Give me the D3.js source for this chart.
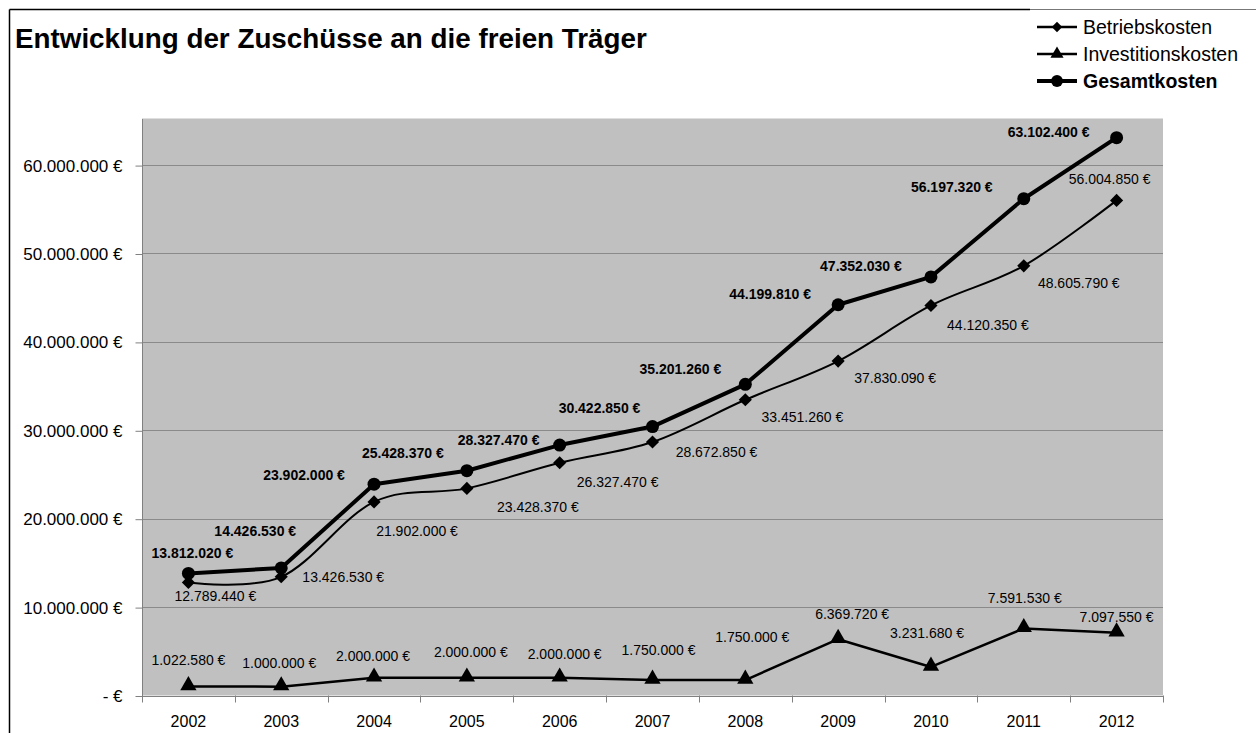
<!DOCTYPE html>
<html>
<head>
<meta charset="utf-8">
<script src="https://cdn.jsdelivr.net/npm/d3@7"></script>
<style>
	body { margin: 0; background: #fff; }
	text { font-family: 'Liberation Sans', Arial, sans-serif; }
</style>
</head>
<body>
<script>

// DATA
var years = ['2002','2003','2004','2005','2006','2007','2008','2009','2010','2011','2012'];
var betriebskosten = [12789440, 13426530, 21902000, 23428370, 26327470, 28672850, 33451260, 37830090, 44120350, 48605790, 56004850];
var investitionskosten = [1022580, 1000000, 2000000, 2000000, 2000000, 1750000, 1750000, 6369720, 3231680, 7591530, 7097550];
var gesamtkosten = [13812020, 14426530, 23902000, 25428370, 28327470, 30422850, 35201260, 44199810, 47352030, 56197320, 63102400];
var yTicks = [0, 10000000, 20000000, 30000000, 40000000, 50000000, 60000000];
var yTickLabels = ['- €', '10.000.000 €', '20.000.000 €', '30.000.000 €', '40.000.000 €', '50.000.000 €', '60.000.000 €'];
var seriesNames = ['Betriebskosten', 'Investitionskosten', 'Gesamtkosten'];

// label nudges (relative to the point, label centre)
var gesamtNudge = [[4,-20],[-26,-37],[-70,-9],[-64,-18],[-61,-5],[-53,-18],[-65,-15],[-68,-11],[-70,-11],[-72,-12],[-68,-6]];
var betriebNudge = [[27,14],[62,0],[43,29],[71,19],[58,19],[64,10],[57,17],[57,17],[57,20],[55,17],[-7,-21]];
var investNudge = [[0,-26],[-2,-24],[-1,-22],[4,-26],[5,-24],[6,-30],[7,-43],[14,-25],[-4,-34],[1,-30],[0,-16]];

var de = d3.formatLocale({decimal: ',', thousands: '.', grouping: [3], currency: ['', ' €']});
var euro = de.format(',.0f');

var chart = d3.select('body').append('svg')
	.attr('width', 1256)
	.attr('height', 733);

// OUTER FRAME
chart.append('line')
	.attr('x1', 9.5).attr('y1', 9.5).attr('x2', 1030).attr('y2', 9.5)
	.attr('stroke', '#000').attr('stroke-width', 1.5);
chart.append('line')
	.attr('x1', 1030).attr('y1', 9.5).attr('x2', 1256).attr('y2', 9.5)
	.attr('stroke', '#777').attr('stroke-width', 1);
chart.append('line')
	.attr('x1', 9.5).attr('y1', 9.5).attr('x2', 9.5).attr('y2', 733)
	.attr('stroke', '#000').attr('stroke-width', 1.5);

// TITLE
chart.append('text')
	.attr('x', 15)
	.attr('y', 48)
	.attr('font-size', 27.8)
	.attr('font-weight', 'bold')
	.text('Entwicklung der Zuschüsse an die freien Träger');

// SCALES
var plotLeft = 142, plotRight = 1163, plotTop = 118.5, plotBottom = 695.5;

var x = d3.scaleBand()
	.domain(years)
	.range([plotLeft, plotRight])
	.padding(0);

var y = d3.scaleLinear()
	.domain([0, 65270000])
	.range([plotBottom, plotTop]);

// PLOT AREA
chart.append('rect')
	.attr('x', plotLeft)
	.attr('y', plotTop)
	.attr('width', plotRight - plotLeft)
	.attr('height', plotBottom - plotTop)
	.attr('fill', '#c0c0c0');

chart.selectAll('.grid')
	.data(yTicks.slice(1))
	.enter().append('line')
	.attr('class', 'grid')
	.attr('x1', plotLeft).attr('x2', plotRight)
	.attr('y1', function(d){ return Math.round(y(d)) + 0.5; })
	.attr('y2', function(d){ return Math.round(y(d)) + 0.5; })
	.attr('stroke', '#8a8a8a')
	.attr('stroke-width', 1);

// Y AXIS
var yAxis = chart.append('g')
	.attr('transform', 'translate(' + (plotLeft + 0.5) + ',0.5)')
	.call(d3.axisLeft(y)
		.tickValues(yTicks)
		.tickSize(7)
		.tickPadding(13)
		.tickFormat(function(d, i){ return yTickLabels[i]; }));
yAxis.select('.domain').attr('stroke', '#808080').attr('d', 'M0,' + plotTop + 'V' + plotBottom);
yAxis.selectAll('.tick line').attr('stroke', '#808080');
yAxis.selectAll('.tick text')
	.attr('font-size', 17)
	.attr('fill', '#000')
	.style('font-family', "'Liberation Sans', Arial, sans-serif");

// X AXIS
var xAxis = chart.append('g')
	.attr('transform', 'translate(0,' + (plotBottom + 0.5) + ')')
	.call(d3.axisBottom(x).tickSize(0).tickPadding(20));
xAxis.select('.domain').attr('stroke', '#808080');
xAxis.selectAll('.tick text')
	.attr('font-size', 16)
	.attr('fill', '#000')
	.style('font-family', "'Liberation Sans', Arial, sans-serif");

chart.selectAll('.xtick')
	.data(years.concat(['end']))
	.enter().append('line')
	.attr('class', 'xtick')
	.attr('x1', function(d, i){ return Math.round(plotLeft + i * x.step()) + 0.5; })
	.attr('x2', function(d, i){ return Math.round(plotLeft + i * x.step()) + 0.5; })
	.attr('y1', plotBottom).attr('y2', plotBottom + 7)
	.attr('stroke', '#808080');

// SERIES
var cx = function(d, i){ return x(years[i]) + x.bandwidth() / 2; };

function drawLine(values, width, curve){
	var line = d3.line()
		.x(function(d, i){ return cx(d, i); })
		.y(function(d){ return y(d); })
		.curve(curve);
	chart.append('path')
		.datum(values)
		.attr('d', line)
		.attr('fill', 'none')
		.attr('stroke', '#000')
		.attr('stroke-width', width)
		.attr('stroke-linejoin', 'round');
}

drawLine(investitionskosten, 2.5, d3.curveLinear);
drawLine(betriebskosten, 2, d3.curveCardinal.tension(0));
drawLine(gesamtkosten, 4, d3.curveLinear);

var diamond = d3.symbol().type(d3.symbolDiamond2).size(110);
var triangle = d3.symbol().type(d3.symbolTriangle).size(115);

chart.selectAll('.inv')
	.data(investitionskosten)
	.enter().append('path')
	.attr('class', 'inv')
	.attr('d', triangle)
	.attr('transform', function(d, i){ return 'translate(' + cx(d, i) + ',' + (y(d) - 1) + ')'; })
	.attr('fill', '#000');

chart.selectAll('.bet')
	.data(betriebskosten)
	.enter().append('path')
	.attr('class', 'bet')
	.attr('d', diamond)
	.attr('transform', function(d, i){ return 'translate(' + cx(d, i) + ',' + y(d) + ')'; })
	.attr('fill', '#000');

chart.selectAll('.ges')
	.data(gesamtkosten)
	.enter().append('circle')
	.attr('class', 'ges')
	.attr('cx', cx)
	.attr('cy', function(d){ return y(d); })
	.attr('r', 6.5)
	.attr('fill', '#000');

// DATA LABELS
function drawLabels(values, nudge, bold){
	chart.append('g').selectAll('text')
		.data(values)
		.enter().append('text')
		.attr('x', function(d, i){ return cx(d, i) + nudge[i][0]; })
		.attr('y', function(d, i){ return y(d) + nudge[i][1]; })
		.attr('dy', '0.35em')
		.attr('text-anchor', 'middle')
		.attr('font-size', 14)
		.attr('font-weight', bold ? 'bold' : 'normal')
		.attr('fill', '#000')
		.text(function(d){ return euro(d) + ' €'; });
}

drawLabels(investitionskosten, investNudge, false);
drawLabels(betriebskosten, betriebNudge, false);
drawLabels(gesamtkosten, gesamtNudge, true);

// LEGEND
var legend = chart.append('g').attr('transform', 'translate(1037,0)');
var legendRows = legend.selectAll('g')
	.data(seriesNames)
	.enter().append('g')
	.attr('transform', function(d, i){ return 'translate(0,' + (27 + i * 27) + ')'; });

legendRows.append('line')
	.attr('x1', 0).attr('x2', 40)
	.attr('stroke', '#000')
	.attr('stroke-width', function(d, i){ return i == 2 ? 4 : 2.5; });

legendRows.append('path')
	.attr('d', function(d, i){
		if (i == 0) return d3.symbol().type(d3.symbolDiamond2).size(70)();
		if (i == 1) return d3.symbol().type(d3.symbolTriangle).size(75)();
		return d3.symbol().type(d3.symbolCircle).size(110)();
	})
	.attr('transform', 'translate(20,0)')
	.attr('fill', '#000');

legendRows.append('text')
	.attr('x', 46)
	.attr('dy', '0.35em')
	.attr('font-size', 19.5)
	.attr('font-weight', function(d, i){ return i == 2 ? 'bold' : 'normal'; })
	.text(function(d){ return d; });

</script>
</body>
</html>
